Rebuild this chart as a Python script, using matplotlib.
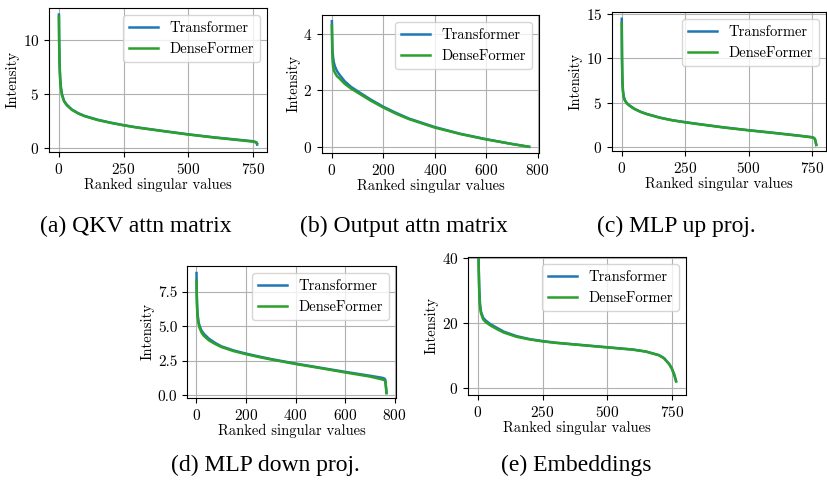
import matplotlib
matplotlib.use("Agg")
import matplotlib.pyplot as plt

plt.rcParams['font.family'] = 'cmr10'
plt.rcParams['mathtext.fontset'] = 'cm'
plt.rcParams['axes.formatter.use_mathtext'] = True
plt.rcParams['axes.unicode_minus'] = False

# ranked singular values
ranks_a = [0, 1, 2, 3, 5, 8, 12, 20, 30, 50, 75, 100, 150, 200, 250, 300, 400, 500, 600, 700, 750, 760, 765, 767]
trans_a = [12.4, 10.0, 8.6, 7.6, 6.5, 5.6, 5.0, 4.4, 4.05, 3.6, 3.25, 3.0, 2.65, 2.38, 2.15, 1.95, 1.62, 1.3, 1.02, 0.78, 0.66, 0.6, 0.55, 0.35]
dense_a = [12.2, 9.8, 8.4, 7.4, 6.3, 5.5, 4.9, 4.35, 4.0, 3.57, 3.22, 2.97, 2.62, 2.36, 2.13, 1.93, 1.6, 1.28, 1.0, 0.75, 0.62, 0.57, 0.5, 0.45]

ranks_b = [0, 1, 2, 3, 5, 8, 12, 20, 30, 50, 75, 100, 150, 200, 250, 300, 400, 500, 600, 700, 767]
trans_b = [4.45, 3.9, 3.55, 3.35, 3.15, 2.98, 2.85, 2.68, 2.55, 2.32, 2.12, 1.97, 1.68, 1.42, 1.2, 1.0, 0.7, 0.46, 0.27, 0.1, 0.0]
dense_b = [4.3, 3.6, 3.2, 3.0, 2.82, 2.7, 2.62, 2.5, 2.42, 2.23, 2.06, 1.92, 1.64, 1.39, 1.17, 0.98, 0.68, 0.45, 0.26, 0.1, 0.0]

ranks_c = [0, 1, 2, 3, 5, 8, 12, 20, 30, 50, 75, 100, 150, 200, 250, 300, 400, 500, 600, 700, 750, 758, 762, 765, 767]
trans_c = [14.5, 10.5, 8.5, 7.3, 6.3, 5.7, 5.3, 4.95, 4.7, 4.3, 3.95, 3.7, 3.3, 3.0, 2.78, 2.58, 2.2, 1.87, 1.57, 1.25, 1.08, 1.0, 0.85, 0.5, 0.2]
dense_c = [14.0, 10.2, 8.3, 7.1, 6.2, 5.6, 5.25, 4.9, 4.65, 4.27, 3.93, 3.68, 3.28, 2.98, 2.76, 2.56, 2.18, 1.85, 1.55, 1.23, 1.05, 0.97, 0.82, 0.48, 0.2]

ranks_d = [0, 1, 2, 3, 5, 8, 12, 20, 30, 50, 75, 100, 150, 200, 250, 300, 400, 500, 600, 700, 750, 758, 762, 765, 767]
trans_d = [8.85, 7.5, 6.8, 6.3, 5.8, 5.35, 5.05, 4.7, 4.45, 4.1, 3.8, 3.55, 3.25, 3.02, 2.82, 2.63, 2.3, 2.0, 1.7, 1.42, 1.27, 1.22, 1.15, 0.6, 0.2]
dense_d = [8.3, 7.2, 6.5, 6.1, 5.6, 5.2, 4.9, 4.55, 4.3, 3.98, 3.72, 3.5, 3.2, 2.98, 2.78, 2.6, 2.27, 1.97, 1.66, 1.36, 1.15, 1.1, 1.05, 0.55, 0.15]

ranks_e = [0, 1, 2, 3, 5, 8, 12, 20, 30, 50, 75, 100, 150, 200, 250, 300, 400, 500, 600, 650, 700, 720, 740, 750, 760, 767]
trans_e = [80, 55, 45, 38, 31, 26, 23.5, 21.7, 20.8, 19.6, 18.5, 17.4, 16.0, 15.1, 14.5, 14.0, 13.3, 12.6, 11.9, 11.3, 10.2, 9.3, 7.5, 6.2, 4.2, 2.2]
dense_e = [80, 54, 44, 37, 30, 25, 23, 21.2, 20.3, 19.2, 18.1, 17.1, 15.8, 15.0, 14.4, 13.95, 13.25, 12.55, 11.85, 11.25, 10.15, 9.2, 7.4, 6.1, 4.1, 2.1]

captions = ['(a) QKV attn matrix', '(b) Output attn matrix', '(c) MLP up proj.',
            '(d) MLP down proj.', '(e) Embeddings']

W, H = 828, 483
fig = plt.figure(figsize=(W / 100, H / 100), dpi=100)

def rect(l, r, t, b):
    return [l / W, 1 - b / H, (r - l) / W, (b - t) / H]

panels = [
    (rect(49, 267, 8, 152), ranks_a, trans_a, dense_a, [0, 250, 500, 750], [0, 5, 10], None, (-0.34, 13.0)),
    (rect(322, 539, 15, 153), ranks_b, trans_b, dense_b, [0, 200, 400, 600, 800], [0, 2, 4], None, (-0.22, 4.67)),
    (rect(612, 826, 12, 151), ranks_c, trans_c, dense_c, [0, 250, 500, 750], [0, 5, 10, 15], None, (-0.49, 15.27)),
    (rect(187, 396, 266, 398), ranks_d, trans_d, dense_d, [0, 200, 400, 600, 800], [0, 2.5, 5, 7.5],
     ['0.0', '2.5', '5.0', '7.5'], (-0.19, 9.36)),
    (rect(468, 686, 257, 395), ranks_e, trans_e, dense_e, [0, 250, 500, 750], [0, 20, 40], None, (-2.06, 40.3)),
]

for pos, x, t, d, xt, yt, ytl, ylim in panels:
    ax = fig.add_axes(pos)
    ax.plot(x, t, color='#1f77b4', lw=1.8, label='Transformer')
    ax.plot(x, d, color='#2ca02c', lw=1.8, label='DenseFormer')
    ax.set_xlim(-38.35, 805.35)
    ax.set_ylim(*ylim)
    ax.set_xticks(xt)
    ax.set_yticks(yt)
    if ytl:
        ax.set_yticklabels(ytl)
    ax.tick_params(labelsize=11)
    ax.grid(True)
    ax.set_xlabel('Ranked singular values', fontsize=10.5, labelpad=1)
    ax.set_ylabel('Intensity', fontsize=10.5, labelpad=2)
    ax.legend(loc='upper right', fontsize=10.5)

cap_pos = [(136, 226), (404, 226), (676, 226), (265, 465), (576, 465)]
for (cx, cy), txt in zip(cap_pos, captions):
    fig.text(cx / W, 1 - cy / H, txt, ha='center', va='center', fontsize=17, family='Liberation Serif')

fig.savefig('out.png', dpi=100)
